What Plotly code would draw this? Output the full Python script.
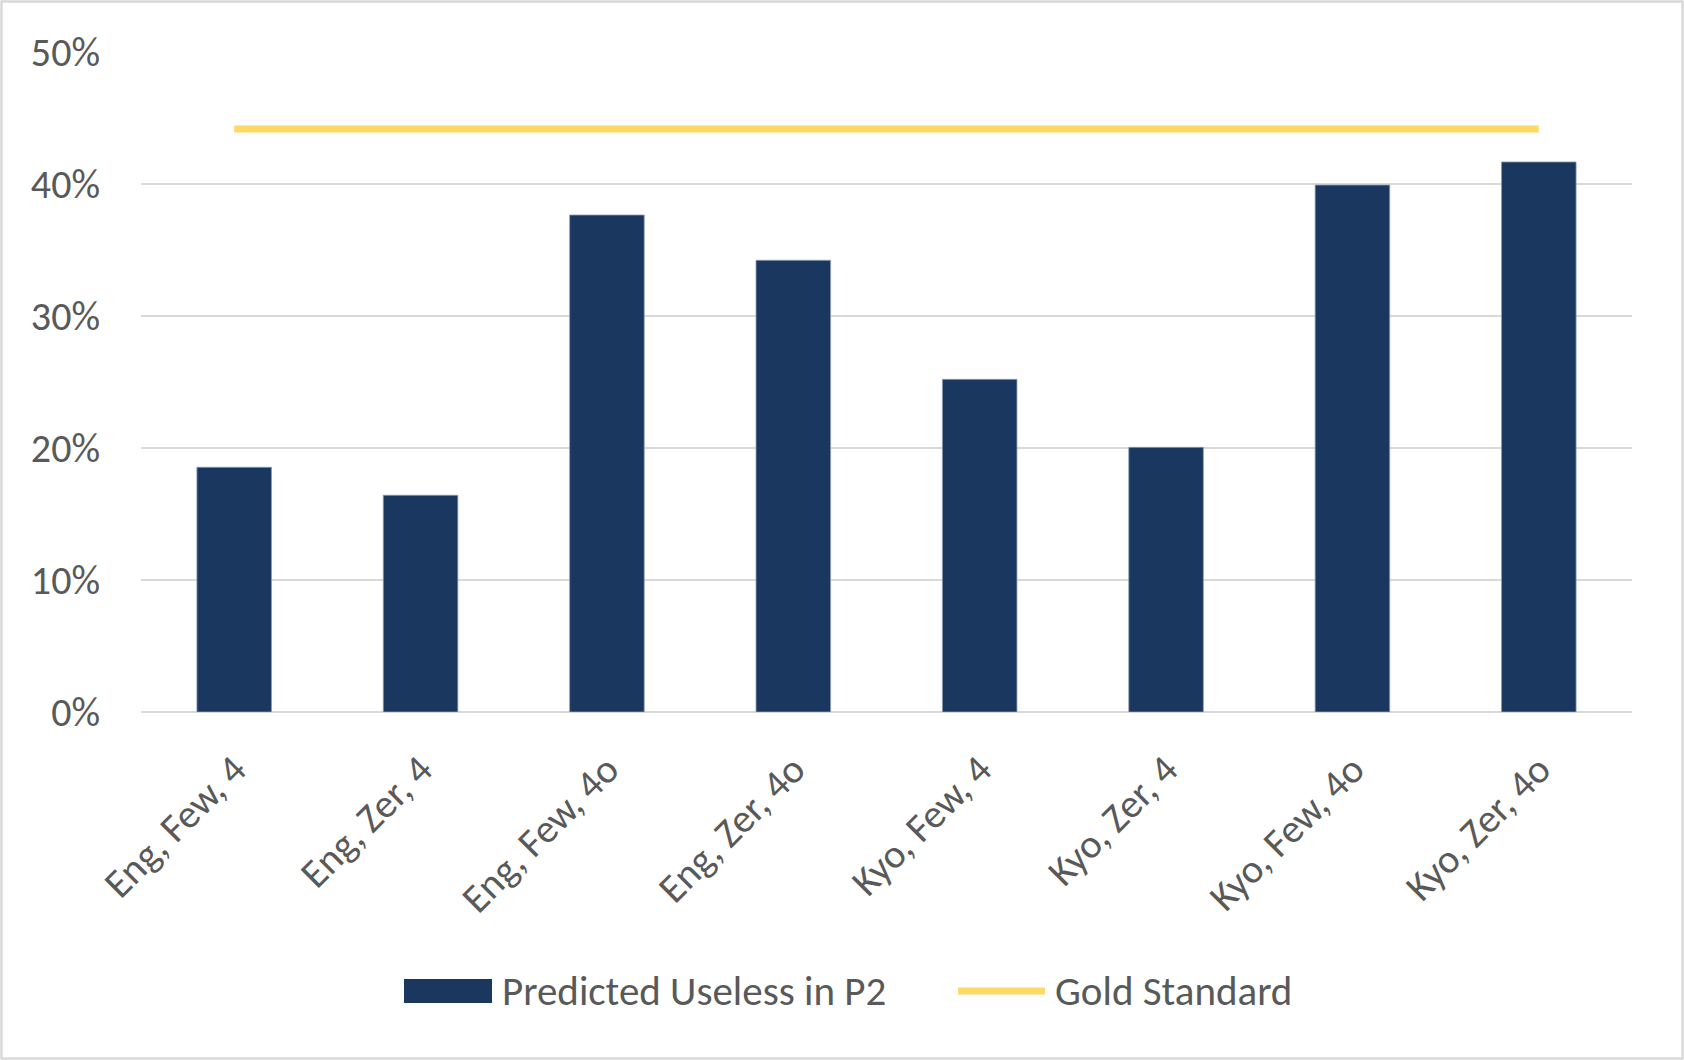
import plotly.graph_objects as go

categories = ["Eng, Few, 4", "Eng, Zer, 4", "Eng, Few, 4o", "Eng, Zer, 4o",
              "Kyo, Few, 4", "Kyo, Zer, 4", "Kyo, Few, 4o", "Kyo, Zer, 4o"]
predicted_useless = [0.1854, 0.1642, 0.3765, 0.3422, 0.2520, 0.2005, 0.3992, 0.4167]
gold_standard = [0.4417] * len(categories)
y_ticks = [0, 0.1, 0.2, 0.3, 0.4, 0.5]
y_tick_labels = ["0%", "10%", "20%", "30%", "40%", "50%"]
legend_names = ["Predicted Useless in P2", "Gold Standard"]

BAR = "#1A3760"
GOLD = "#FFD966"
GRID = "#D9D9D9"
TXT = "#595959"
FONT = "Carlito, Lato, sans-serif"

W, H = 1684, 1060
L, R, T, B = 141, 52, 52, 348
pw, ph = W - L - R, H - T - B


def px(x):
    return (x - L) / pw


def py(y):
    return (H - B - y) / ph


fig = go.Figure()
fig.add_trace(go.Bar(x=categories, y=predicted_useless, name=legend_names[0],
                     marker=dict(color=BAR, line=dict(color="#8A9BB3", width=0.8)),
                     width=0.4, showlegend=False))
fig.add_trace(go.Scatter(x=categories, y=gold_standard, name=legend_names[1], mode="lines",
                         line=dict(color=GOLD, width=7), showlegend=False))

shapes = [
    # outer chart border
    dict(type="rect", xref="paper", yref="paper", x0=px(1.5), x1=px(W - 1.5),
         y0=py(H - 1.5), y1=py(1.5), line=dict(color=GRID, width=2.5), layer="below"),
    # legend swatches
    dict(type="rect", xref="paper", yref="paper", x0=px(404), x1=px(492),
         y0=py(1003), y1=py(979), fillcolor=BAR, line=dict(width=0)),
    dict(type="line", xref="paper", yref="paper", x0=px(958), x1=px(1045),
         y0=py(991), y1=py(991), line=dict(color=GOLD, width=7)),
]
annotations = [
    dict(xref="paper", yref="paper", x=px(500), y=py(991), text=legend_names[0],
         showarrow=False, xanchor="left", yanchor="middle",
         font=dict(family=FONT, size=41, color=TXT)),
    dict(xref="paper", yref="paper", x=px(1053), y=py(991), text=legend_names[1],
         showarrow=False, xanchor="left", yanchor="middle",
         font=dict(family=FONT, size=41, color=TXT)),
]

fig.update_layout(
    width=W, height=H,
    margin=dict(l=L, r=R, t=T, b=B, pad=0),
    paper_bgcolor="white", plot_bgcolor="white",
    font=dict(family=FONT, color=TXT, size=40),
    bargap=0.6,
    showlegend=False,
    shapes=shapes,
    annotations=annotations,
    xaxis=dict(type="category", tickangle=-45, showgrid=False, showline=False,
               ticks="outside", ticklen=17, tickcolor="rgba(0,0,0,0)",
               tickfont=dict(family=FONT, size=40, color=TXT)),
    yaxis=dict(range=[0, 0.5], tickvals=y_ticks, ticktext=y_tick_labels,
               showgrid=True, gridcolor=GRID, gridwidth=2,
               zeroline=True, zerolinecolor=GRID, zerolinewidth=2,
               showline=False, ticks="outside", ticklen=32,
               tickcolor="rgba(0,0,0,0)",
               tickfont=dict(family=FONT, size=40, color=TXT)),
)

fig.write_html("out.html", config={"displayModeBar": False},
               post_script="document.body.style.margin='0px';document.body.style.padding='0px';")
